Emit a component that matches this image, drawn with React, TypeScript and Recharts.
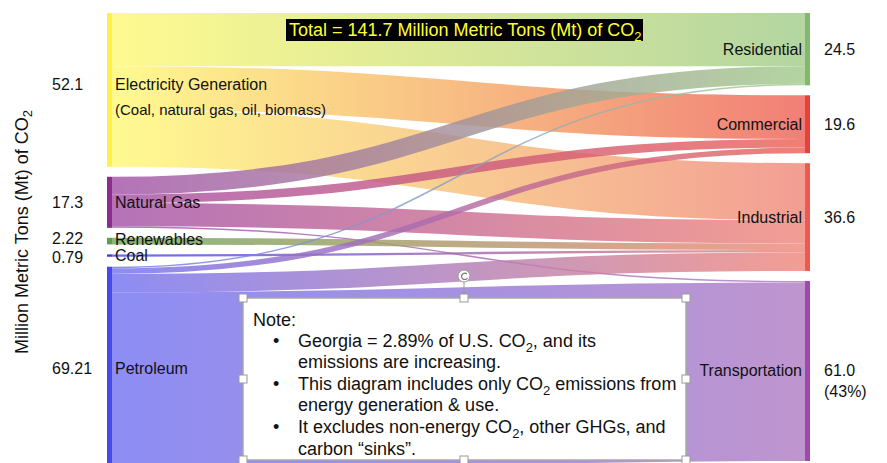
import { Sankey } from "recharts";

const sources = ["Electricity Generation", "Natural Gas", "Renewables", "Coal", "Petroleum"];
const sectors = ["Residential", "Commercial", "Industrial", "Transportation"];
const sourceTotals = ["52.1", "17.3", "2.22", "0.79", "69.21"];
const sectorTotals = ["24.5", "19.6", "36.6", "61.0"];
const sourceNotes = ["(Coal, natural gas, oil, biomass)", "", "", "", ""];
const sectorNotes = ["", "", "", "(43%)"];

// Mt CO2 from each source into Residential, Commercial, Industrial, Transportation
const electricity = [18.0, 14.8, 19.3, 0];
const naturalGas = [6.0, 2.9, 7.9, 0.5];
const renewables = [0, 0, 2.22, 0];
const coal = [0, 0, 0.79, 0];
const petroleum = [0.5, 1.9, 6.31, 60.5];

const flows = [electricity, naturalGas, renewables, coal, petroleum];

const sourceBar = ["#FFF04A", "#8B2C8F", "#5E9E4E", "#3A3AE0", "#4848F2"];
const sectorBar = ["#80B96C", "#E8413A", "#EE5A50", "#A048B0"];
const sourceFlow = ["#FFF978", "#A453A8", "#6EA95A", "#4B4BE6", "#7474F2"];
const sectorFlow = ["#A2CC8C", "#EE6258", "#F0887C", "#B17EC3"];
// small vertical nudges so the two thin sources' numbers don't collide
const valueNudge = [0, 0, -3, 2, 0];
const labelNudge = [0, 0, -2, 0, 0];

const nodes = [...sources, ...sectors].map((name) => ({ name }));
const links = flows.flatMap((row, s) =>
  row
    .map((value, t) => ({ source: s, target: sources.length + t, value }))
    .filter((l) => l.value > 0)
);

const font = "'Liberation Sans', Arial, sans-serif";

function FlowLink(props: any) {
  const { sourceX, targetX, sourceY, targetY, sourceControlX, targetControlX, linkWidth, index } = props;
  const l = links[index];
  const id = `flow-${index}`;
  return (
    <g>
      <defs>
        <linearGradient id={id} gradientUnits="userSpaceOnUse" x1={sourceX} y1={0} x2={targetX} y2={0}>
          <stop offset="0%" stopColor={sourceFlow[l.source]} />
          <stop offset="100%" stopColor={sectorFlow[l.target - sources.length]} />
        </linearGradient>
      </defs>
      <path
        d={`M${sourceX},${sourceY}C${sourceControlX},${sourceY} ${targetControlX},${targetY} ${targetX},${targetY}`}
        fill="none"
        stroke={`url(#${id})`}
        strokeWidth={Math.max(1, linkWidth)}
        strokeOpacity={0.82}
      />
    </g>
  );
}

function FlowNode(props: any) {
  const { x, y, width, height, index } = props;
  const left = index < sources.length;
  const cy = y + height / 2;
  if (left) {
    const note = sourceNotes[index];
    const ly = note ? cy - 5 : cy;
    return (
      <g fontFamily={font}>
        <rect x={x} y={y} width={width} height={Math.max(height, 1.5)} fill={sourceBar[index]} />
        <text x={x + width + 3} y={ly + labelNudge[index]} dominantBaseline="central" fontSize={16} fill="#111">
          {sources[index]}
        </text>
        {note && (
          <text x={x + width + 3} y={cy + 20} dominantBaseline="central" fontSize={15} fill="#111">
            {note}
          </text>
        )}
        <text x={x - 55} y={ly + valueNudge[index]} dominantBaseline="central" fontSize={16} fill="#111">
          {sourceTotals[index]}
        </text>
      </g>
    );
  }
  const k = index - sources.length;
  return (
    <g fontFamily={font}>
      <rect x={x} y={y} width={width} height={height} fill={sectorBar[k]} />
      <text x={x - 3} y={cy} dominantBaseline="central" textAnchor="end" fontSize={16} fill="#111">
        {sectors[k]}
      </text>
      <text x={x + width + 14} y={cy} dominantBaseline="central" fontSize={16} fill="#111">
        {sectorTotals[k]}
      </text>
      {sectorNotes[k] && (
        <text x={x + width + 14} y={cy + 21} dominantBaseline="central" fontSize={16} fill="#111">
          {sectorNotes[k]}
        </text>
      )}
    </g>
  );
}

const handles = [
  [243, 298], [464, 298], [686, 298],
  [243, 379], [686, 379],
  [243, 460], [464, 460], [686, 460],
];

// text with a CO2 subscript: before + "CO" + sub "2" + after
function Co2({ before, after }: { before: string; after: string }) {
  return (
    <>
      {before}CO
      <tspan dy={5} fontSize={13}>2</tspan>
      {after ? <tspan dy={-5}>{after}</tspan> : null}
    </>
  );
}

export default function App() {
  return (
    <div style={{ position: "fixed", left: 0, top: 0, width: 887, height: 463, overflow: "hidden", background: "#fff" }}>
      <Sankey
        width={887}
        height={471}
        data={{ nodes, links }}
        node={FlowNode}
        link={FlowLink}
        nodeWidth={5}
        nodePadding={10}
        iterations={0}
        margin={{ top: 13, right: 77, bottom: 0, left: 107 }}
      />
      <svg width={887} height={463} style={{ position: "absolute", left: 0, top: 0, pointerEvents: "none" }} fontFamily={font}>
        <rect x={286} y={19} width={357} height={22} fill="#000" />
        <text x={289} y={36} fontSize={18} fill="#FFFF33">
          <Co2 before="Total = 141.7 Million Metric Tons (Mt) of " after="" />
        </text>

        <text x={22} y={232} transform="rotate(-90 22 232)" textAnchor="middle" dominantBaseline="central" fontSize={18} fill="#111">
          <Co2 before="Million Metric Tons (Mt) of " after="" />
        </text>

        <line x1={464} y1={282} x2={464} y2={298} stroke="#999" strokeWidth={1} />
        <circle cx={464} cy={276} r={6} fill="#fff" stroke="#999" strokeWidth={1} />
        <path d="M467,274 A3.2,3.2 0 1 0 467.5,278" fill="none" stroke="#777" strokeWidth={1.2} />
        <rect x={243} y={298} width={443} height={162} fill="#fff" stroke="#A8A8A8" strokeWidth={1.5} />
        {handles.map(([hx, hy], i) => (
          <rect key={i} x={hx - 4} y={hy - 4} width={8} height={8} fill="#fff" stroke="#999" strokeWidth={1} />
        ))}

        <g fontSize={18} fill="#111">
          <text x={253} y={326}>Note:</text>
          <text x={273} y={347}>•</text>
          <text x={298} y={347}>
            <Co2 before="Georgia = 2.89% of U.S. " after=", and its" />
          </text>
          <text x={298} y={368}>emissions are increasing.</text>
          <text x={273} y={390}>•</text>
          <text x={298} y={390}>
            <Co2 before="This diagram includes only " after=" emissions from" />
          </text>
          <text x={298} y={411}>energy generation &amp; use.</text>
          <text x={273} y={433}>•</text>
          <text x={298} y={433}>
            <Co2 before="It excludes non-energy " after=", other GHGs, and" />
          </text>
          <text x={298} y={455}>carbon “sinks”.</text>
        </g>
      </svg>
    </div>
  );
}
